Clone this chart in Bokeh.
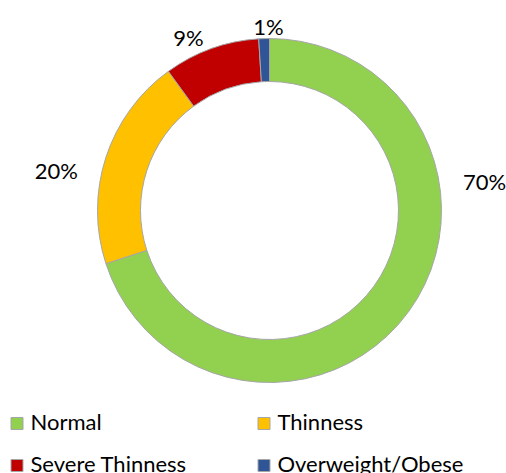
import math
from bokeh.plotting import figure
from bokeh.models import Range1d, ColumnDataSource
from bokeh.core.properties import value
from bokeh.embed import file_html
from bokeh.resources import INLINE

# ---- data ----
categories = ["Normal", "Thinness", "Severe Thinness", "Overweight/Obese"]
percents = [70, 20, 9, 1]
labels = ["70%", "20%", "9%", "1%"]
colors = ["#92D050", "#FFC000", "#C00000", "#2F5597"]

# ---- layout (pixels) ----
W, H = 506, 473
CX, CY = 269, H - 210          # donut centre
R_OUT, R_IN = 172, 129
# label placement: polar (clockwise degrees from top, radius px)
label_theta = [82.3, 280.6, 334.9, 359.7]
label_rad = [217, 217, 191, 184]
FONT = "Lato"
FSIZE = "22px"

p = figure(width=W, height=H, output_backend="svg", toolbar_location=None,
           x_range=Range1d(0, W), y_range=Range1d(0, H),
           x_axis_type=None, y_axis_type=None, min_border=0)
p.grid.visible = False
p.outline_line_color = None
p.background_fill_color = "white"
p.border_fill_color = "white"

total = float(sum(percents))
starts, ends = [], []
cum = 0.0
for v in percents:
    a0 = math.pi / 2 - 2 * math.pi * cum / total
    cum += v
    a1 = math.pi / 2 - 2 * math.pi * cum / total
    starts.append(a0)
    ends.append(a1)

src = ColumnDataSource(dict(cat=categories, start=starts, end=ends, color=colors))
p.annular_wedge(x=CX, y=CY, inner_radius=R_IN, outer_radius=R_OUT,
                start_angle="start", end_angle="end", direction="clock",
                fill_color="color", line_color="#A6A6A6", line_width=1, source=src)

lx = [CX + r * math.sin(math.radians(t)) for t, r in zip(label_theta, label_rad)]
ly = [CY + r * math.cos(math.radians(t)) for t, r in zip(label_theta, label_rad)]
p.text(x=lx, y=ly, text=labels, text_align="center", text_baseline="middle",
       text_font=value(FONT), text_font_size=FSIZE, text_color="#000000")

# ---- legend (2 columns) ----
col_x = [16.5, 263.5]
row_y = [50, 8]
sq_x, sq_y, tx, ty = [], [], [], []
for i, c in enumerate(categories):
    r, col = divmod(i, 2)
    sq_x.append(col_x[col])
    sq_y.append(row_y[r])
    tx.append(col_x[col] + 13.5)
    ty.append(row_y[r] + 2)
p.rect(x=sq_x, y=sq_y, width=12, height=12, fill_color=colors,
       line_color="#A6A6A6", line_width=1)
p.text(x=tx, y=ty, text=categories, text_align="left", text_baseline="middle",
       text_font=value(FONT), text_font_size=FSIZE, text_color="#000000")

open("out.html", "w").write(file_html(p, INLINE))
